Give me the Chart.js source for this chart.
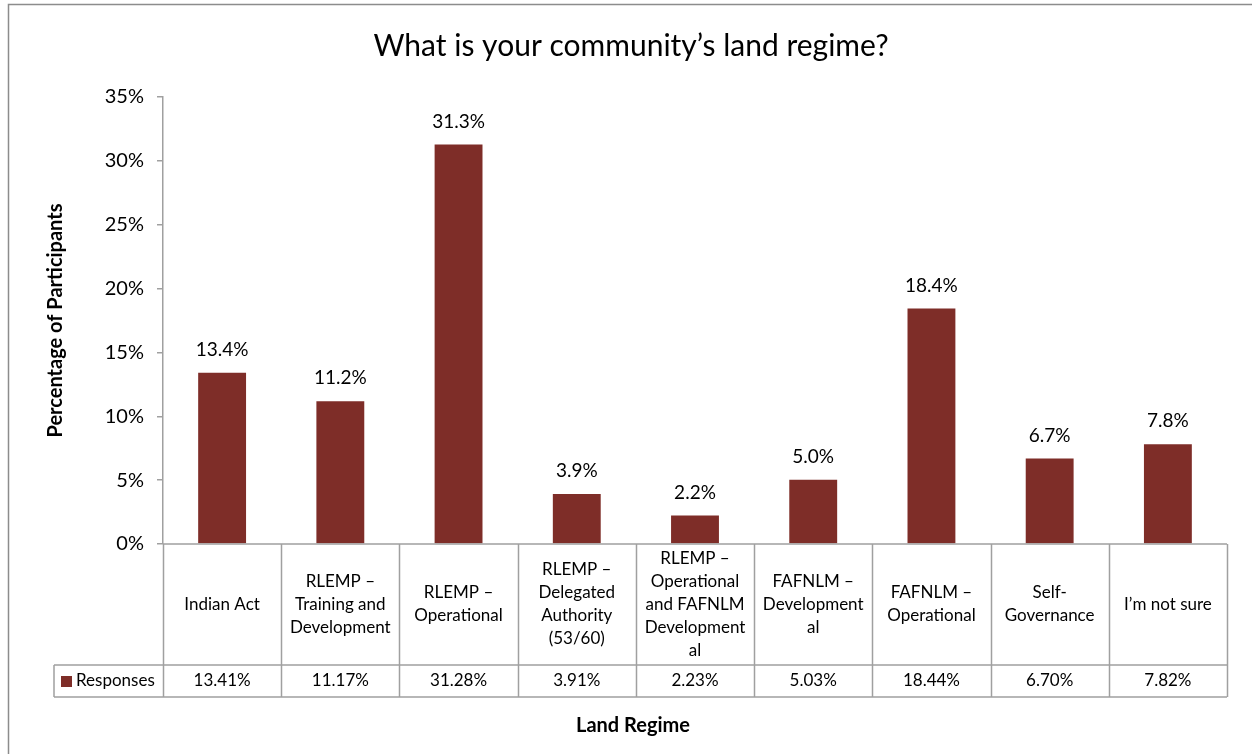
<!DOCTYPE html>
<html>
<head>
<meta charset="utf-8">
<title>Land Regime</title>
<script src="https://cdn.jsdelivr.net/npm/chart.js@4.4.1/dist/chart.umd.min.js"></script>
<style>
  html, body { margin: 0; padding: 0; background: #fff; }
  #wrap { width: 1252px; height: 754px; }
</style>
</head>
<body>
<div id="wrap"><canvas id="regime-chart" width="1252" height="754"></canvas></div>
<script>
// Categorías (líneas tal como se parten en la tabla)
const categorias = [
    ['Indian Act'],
    ['RLEMP \u2013', 'Training and', 'Development'],
    ['RLEMP \u2013', 'Operational'],
    ['RLEMP \u2013', 'Delegated', 'Authority', '(53/60)'],
    ['RLEMP \u2013', 'Operational', 'and FAFNLM', 'Development', 'al'],
    ['FAFNLM \u2013', 'Development', 'al'],
    ['FAFNLM \u2013', 'Operational'],
    ['Self-', 'Governance'],
    ['I\u2019m not sure']
];
const respuestas = [13.41, 11.17, 31.28, 3.91, 2.23, 5.03, 18.44, 6.70, 7.82];
const serieNombre = 'Responses';
const ticksY = [0, 5, 10, 15, 20, 25, 30, 35];

const titulo = 'What is your community\u2019s land regime?';
const tituloX = 'Land Regime';
const tituloY = 'Percentage of Participants';

const colorBarra = '#7E2D28';
const colorLinea = '#A0A0A0';
const fuente = 'Lato, Carlito, Calibri, sans-serif';

// Título, etiquetas, tabla de datos y marco del gráfico
const tablaPlugin = {
    id: 'tablaDatos',
    afterDraw(chart) {
        const ctx = chart.ctx;
        const area = chart.chartArea;
        const x = chart.scales.x;
        const meta = chart.getDatasetMeta(0);
        const n = categorias.length;
        const paso = (area.right - area.left) / n;
        const filaCat = 121;
        const filaVal = 32;
        const yCat = area.bottom;
        const yVal = yCat + filaCat;
        const yFin = yVal + filaVal;
        const leyendaX = 54;

        ctx.save();

        // marco exterior
        ctx.strokeStyle = '#8C8C8C';
        ctx.lineWidth = 1.5;
        ctx.beginPath();
        ctx.moveTo(8.5, chart.height + 2);
        ctx.lineTo(8.5, 4.5);
        ctx.lineTo(chart.width + 2, 4.5);
        ctx.stroke();

        // título
        ctx.fillStyle = '#000';
        ctx.textAlign = 'center';
        ctx.textBaseline = 'middle';
        ctx.font = '30px ' + fuente;
        ctx.fillText(titulo, 631, 46);

        // etiquetas sobre las barras
        ctx.font = '19px ' + fuente;
        meta.data.forEach((bar, i) => {
            ctx.fillText(respuestas[i].toFixed(1) + '%', bar.x, bar.y - 23);
        });

        // líneas de la tabla
        ctx.strokeStyle = colorLinea;
        ctx.lineWidth = 1.5;
        ctx.beginPath();
        ctx.moveTo(area.left, yCat);
        ctx.lineTo(area.right, yCat);
        ctx.moveTo(leyendaX, yVal);
        ctx.lineTo(area.right, yVal);
        ctx.moveTo(leyendaX, yFin);
        ctx.lineTo(area.right, yFin);
        ctx.moveTo(leyendaX, yVal);
        ctx.lineTo(leyendaX, yFin);
        for (let i = 0; i <= n; i++) {
            const bx = Math.round(x.getPixelForValue(i) - paso / 2) + 0.5;
            ctx.moveTo(bx, yCat);
            ctx.lineTo(bx, yFin);
        }
        ctx.stroke();

        // textos de la tabla
        ctx.fillStyle = '#000';
        ctx.font = '17px ' + fuente;
        const interlinea = 23;
        categorias.forEach((lineas, i) => {
            const cx = x.getPixelForValue(i);
            const y0 = yCat + filaCat / 2 - (lineas.length - 1) * interlinea / 2;
            lineas.forEach((t, j) => ctx.fillText(t, cx, y0 + j * interlinea));
            ctx.fillText(respuestas[i].toFixed(2) + '%', cx, yVal + filaVal / 2);
        });

        // leyenda de la serie
        ctx.fillStyle = colorBarra;
        ctx.fillRect(61, yVal + 11, 11, 11);
        ctx.fillStyle = '#000';
        ctx.textAlign = 'left';
        ctx.fillText(serieNombre, 76, yVal + filaVal / 2);

        // título del eje X
        ctx.textAlign = 'center';
        ctx.font = 'bold 20px ' + fuente;
        ctx.fillText(tituloX, 633, 726);

        ctx.restore();
    }
};

const ctx = document.getElementById('regime-chart').getContext('2d');
new Chart(ctx, {
    type: 'bar',
    data: {
        labels: categorias.map(c => c.join(' ')),
        datasets: [{
            label: serieNombre,
            data: respuestas,
            backgroundColor: colorBarra,
            borderWidth: 0,
            categoryPercentage: 1,
            barPercentage: 0.405
        }]
    },
    options: {
        responsive: false,
        animation: false,
        layout: { padding: { top: 97, right: 25, bottom: 210, left: 0 } },
        plugins: {
            legend: { display: false },
            title: { display: false },
            tooltip: { enabled: false }
        },
        scales: {
            x: { display: false },
            y: {
                min: 0,
                max: 35,
                afterFit(scale) { scale.width = 163; },
                afterBuildTicks(scale) { scale.ticks = ticksY.map(v => ({ value: v })); },
                ticks: {
                    padding: 13,
                    color: '#000',
                    font: { family: fuente, size: 20 },
                    callback: v => v + '%'
                },
                grid: {
                    drawOnChartArea: false,
                    tickLength: 6,
                    color: colorLinea,
                    lineWidth: 1.5
                },
                border: { color: colorLinea, width: 1.5 },
                title: {
                    display: true,
                    text: tituloY,
                    color: '#000',
                    font: { family: fuente, size: 20, weight: 'bold' },
                    padding: { top: 44, bottom: 0 }
                }
            }
        }
    },
    plugins: [tablaPlugin]
});
</script>
</body>
</html>
